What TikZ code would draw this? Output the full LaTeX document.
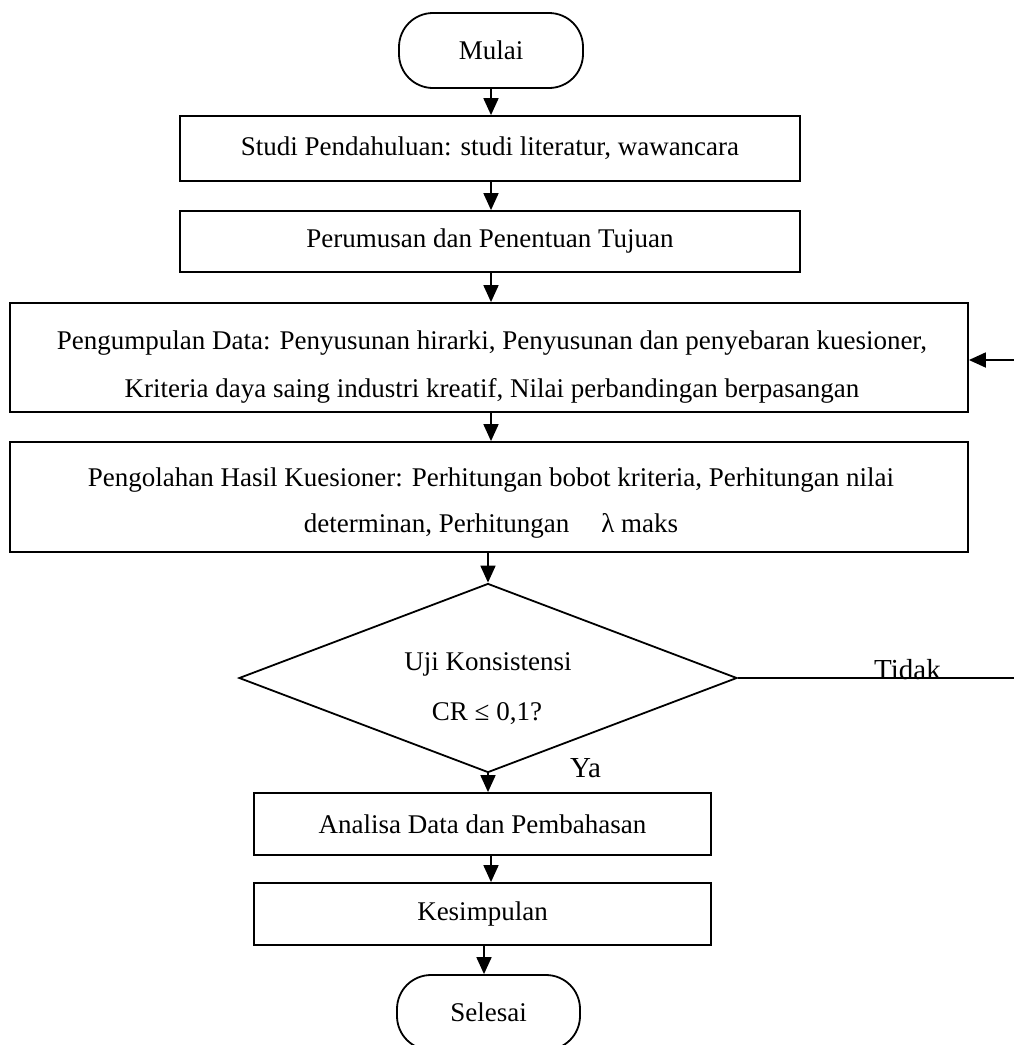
\documentclass[tikz,border=0pt]{standalone}
\usepackage{fontspec}
\setmainfont{Liberation Serif}
\usetikzlibrary{arrows.meta,shapes.geometric}
\begin{document}
\begin{tikzpicture}[x=1pt,y=-1pt,
  every node/.style={font=\fontsize{27}{37}\selectfont},
  box/.style={draw,line width=1.8pt,inner sep=0pt,align=center},
  term/.style={draw,line width=1.8pt,rounded corners=34pt,inner sep=0pt,minimum width=184pt,minimum height=75pt},
  arr/.style={line width=1.8pt,-{Triangle[length=17pt,width=15pt]}},
  ln/.style={line width=1.8pt},
  txt/.style={anchor=base,inner sep=0pt},
  lbl/.style={anchor=base,inner sep=0pt,font=\fontsize{29}{35}\selectfont}]
\useasboundingbox (0,0) rectangle (1014,1045);
\node[term] (mulai) at (491,50.5) {Mulai};
\node[box,minimum width=620pt,minimum height=65pt] (b1) at (490,148.5) {Studi Pendahuluan: studi literatur, wawancara};
\node[box,minimum width=620pt,minimum height=61pt] (b2) at (490,241.5) {Perumusan dan Penentuan Tujuan};
\node[box,minimum width=958pt,minimum height=109pt] (b3) at (489,357.5) {};
\node[txt] (b3a) at (492,349) {Pengumpulan Data: Penyusunan hirarki, Penyusunan dan penyebaran kuesioner,};
\node[txt] (b3b) at (492,397) {Kriteria daya saing industri kreatif, Nilai perbandingan berpasangan};
\node[box,minimum width=958pt,minimum height=110pt] (b4) at (489,497) {};
\node[txt] (b4a) at (491,486) {Pengolahan Hasil Kuesioner: Perhitungan bobot kriteria, Perhitungan nilai};
\node[txt] (b4b) at (491,532) {determinan, Perhitungan\hspace{32pt}λ maks};
\node[diamond,draw,ln,inner sep=0pt,minimum width=498pt,minimum height=189pt,aspect=2.63] (dia) at (488,678) {};
\node[txt] (q1) at (488,670) {Uji Konsistensi};
\node[txt] (q2) at (487,720) {CR ≤ 0,1?};
\node[box,minimum width=457pt,minimum height=62pt] (b5) at (482.5,824) {Analisa Data dan Pembahasan};
\node[box,minimum width=457pt,minimum height=62pt] (b6) at (482.5,914) {Kesimpulan};
\node[term,minimum width=183pt] (selesai) at (488.5,1012.5) {Selesai};
\node[lbl] (tidak) at (907.5,679) {Tidak};
\node[lbl] (ya) at (585.5,777) {Ya};
\coordinate (fb) at (1014,360);
\coordinate (tend) at (1014,679);
\draw[arr] (mulai.south) -- (mulai.south |- b1.north);
\draw[arr] (mulai.south |- b1.south) -- (mulai.south |- b2.north);
\draw[arr] (mulai.south |- b2.south) -- (mulai.south |- b3.north);
\draw[arr] (mulai.south |- b3.south) -- (mulai.south |- b4.north);
\draw[arr] (dia.north |- b4.south) -- (dia.north);
\draw[arr] (dia.south) -- (dia.south |- b5.north);
\draw[arr] (mulai.south |- b5.south) -- (mulai.south |- b6.north);
\draw[arr] ([xshift=1.5pt]b6.south) -- ([xshift=1.5pt]b6.south |- selesai.north);
\draw[ln] (dia.east) -- (dia.east -| tend);
\draw[arr] (fb) -- (fb -| b3.east);
\end{tikzpicture}
\end{document}
